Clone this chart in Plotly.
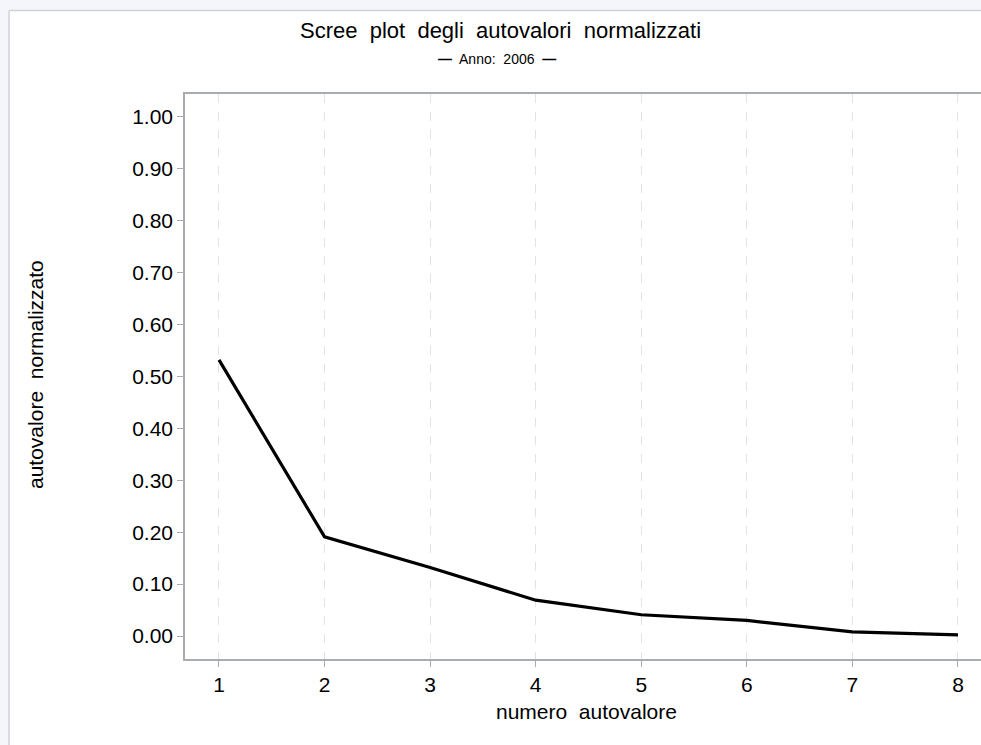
import plotly.graph_objects as go

# Data
componenti = [1, 2, 3, 4, 5, 6, 7, 8]
autovalori_norm = [0.532, 0.191, 0.132, 0.069, 0.041, 0.030, 0.008, 0.002]
y_ticks = [0.0, 0.1, 0.2, 0.3, 0.4, 0.5, 0.6, 0.7, 0.8, 0.9, 1.0]

W, H = 981, 745
L, R, T, B = 185, 0, 94, 86
PW = W - L - R
PH = H - T - B


def px(x):
    return (x - L) / PW


def py(y):
    return (H - B - y) / PH


FONT = "Liberation Sans, Arial, sans-serif"
AXC = "#a9adb2"

fig = go.Figure()
fig.add_trace(go.Scatter(
    x=componenti, y=autovalori_norm, mode="lines",
    line=dict(color="black", width=3.2),
    showlegend=False, hoverinfo="x+y",
))

fig.update_layout(
    width=W, height=H,
    margin=dict(l=L, r=R, t=T, b=B),
    paper_bgcolor="white", plot_bgcolor="white",
    font=dict(family=FONT, color="black", size=21),
    xaxis=dict(
        range=[0.678, 8.218], tickmode="array", tickvals=componenti,
        ticktext=[str(c) for c in componenti],
        showgrid=True, gridcolor="#e3e3e3", griddash="dash", gridwidth=1,
        showline=True, linecolor=AXC, linewidth=1.5, mirror=True,
        ticks="outside", ticklen=6, tickcolor=AXC, tickwidth=1,
        tickfont=dict(size=21), zeroline=False,
    ),
    yaxis=dict(
        range=[-0.0443, 1.0443], tickmode="array", tickvals=y_ticks,
        ticktext=[f"{v:.2f}" for v in y_ticks],
        showgrid=False,
        showline=True, linecolor=AXC, linewidth=1.5, mirror=False,
        ticks="outside", ticklen=6, tickcolor=AXC, tickwidth=1,
        tickfont=dict(size=21), zeroline=False,
    ),
    shapes=[
        dict(type="rect", xref="paper", yref="paper",
             x0=px(0), x1=px(W), y0=py(10), y1=py(0),
             fillcolor="#f4f6fc", line=dict(width=0), layer="below"),
        dict(type="rect", xref="paper", yref="paper",
             x0=px(0), x1=px(8), y0=py(H), y1=py(0),
             fillcolor="#f4f6fc", line=dict(width=0), layer="below"),
        dict(type="line", xref="paper", yref="paper",
             x0=px(9), x1=px(W), y0=py(10.5), y1=py(10.5),
             line=dict(color="#cfd1d4", width=1.5)),
        dict(type="line", xref="paper", yref="paper",
             x0=px(9), x1=px(9), y0=py(10.5), y1=py(H),
             line=dict(color="#cfd1d4", width=1.5)),
    ],
    annotations=[
        dict(text="Scree  plot  degli  autovalori  normalizzati", xref="paper", yref="paper",
             x=px(500), y=py(31), xanchor="center", yanchor="middle",
             showarrow=False, font=dict(size=22)),
        dict(text="<b>—</b>  Anno:  2006  <b>—</b>", xref="paper", yref="paper",
             x=px(497), y=py(59), xanchor="center", yanchor="middle",
             showarrow=False, font=dict(size=14)),
        dict(text="autovalore  normalizzato", xref="paper", yref="paper",
             x=px(35), y=py(375), xanchor="center", yanchor="middle",
             textangle=-90, showarrow=False, font=dict(size=21)),
        dict(text="numero  autovalore", xref="paper", yref="paper",
             x=px(586), y=py(711), xanchor="center", yanchor="middle",
             showarrow=False, font=dict(size=21)),
    ],
)

fig.write_html(
    "out.html",
    config={"displayModeBar": False},
    post_script="document.body.style.margin='0';document.body.style.overflow='hidden';",
)
